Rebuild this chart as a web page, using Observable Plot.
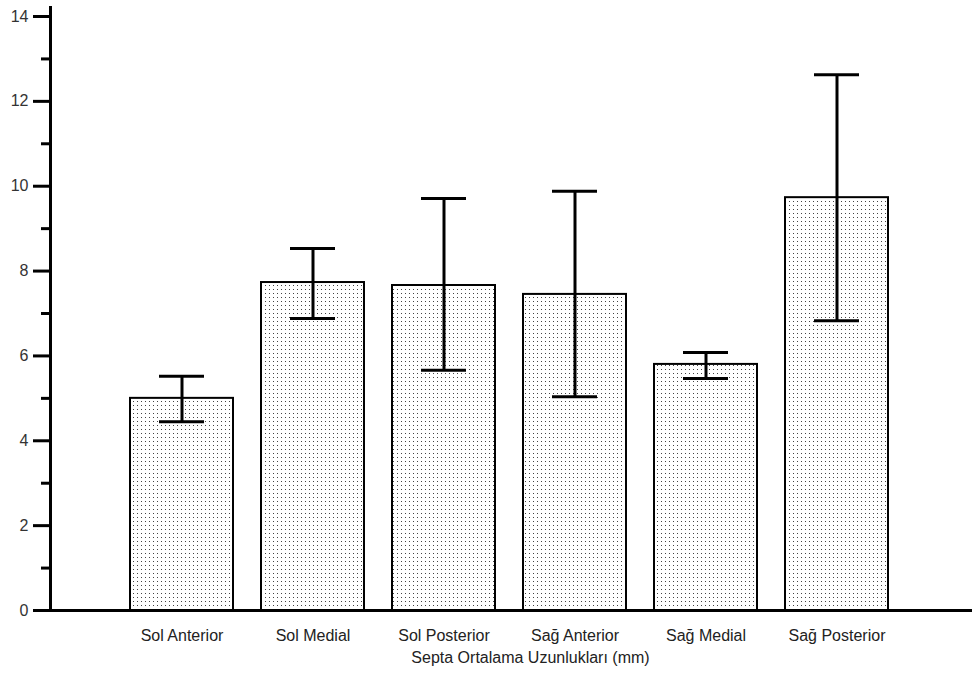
<!DOCTYPE html>
<html><head><meta charset="utf-8">
<script src="https://cdn.jsdelivr.net/npm/d3@7"></script>
<script src="https://cdn.jsdelivr.net/npm/@observablehq/plot@0.6"></script>
<style>
body{margin:0;background:#fff;}
svg{font-family:"Liberation Sans",Arial,sans-serif;}
</style>
</head><body><div id="chart"></div>
<script>
const categories = ["Sol Anterior","Sol Medial","Sol Posterior","Sağ Anterior","Sağ Medial","Sağ Posterior"];
const means = [5.0, 7.73, 7.66, 7.45, 5.80, 9.73];
const upper = [5.52, 8.53, 9.71, 9.88, 6.08, 12.63];
const lower = [4.45, 6.88, 5.66, 5.04, 5.47, 6.83];
const majorTicks = [0,2,4,6,8,10,12,14];
const minorTicks = [1,3,5,7,9,11,13];
const xTitle = "Septa Ortalama Uzunlukları (mm)";

const data = categories.map((c,i)=>({cat:c, mean:means[i], hi:upper[i], lo:lower[i]}));

const chart = Plot.plot({
  width: 972, height: 682,
  marginLeft: 50, marginRight: 0, marginTop: 16, marginBottom: 72,
  style: {fontFamily: '"Liberation Sans", Arial, sans-serif', background: "#fff"},
  x: {domain: categories, range: [128, 889], paddingInner: 0.217, paddingOuter: 0, label: null},
  y: {domain: [0, 14], label: null},
  marks: [
    Plot.barY(data, {x: "cat", y: "mean", fill: "url(#dots)", stroke: "#000", strokeWidth: 2}),
    Plot.ruleX(data, {x: "cat", y1: "lo", y2: "hi", stroke: "#000", strokeWidth: 3}),
    Plot.tickY(data, {x: "cat", y: "hi", stroke: "#000", strokeWidth: 3, insetLeft: 29, insetRight: 29}),
    Plot.tickY(data, {x: "cat", y: "lo", stroke: "#000", strokeWidth: 3, insetLeft: 29, insetRight: 29}),
    Plot.ruleY([0], {stroke: "#000", strokeWidth: 3}),
    Plot.frame({anchor: "left", stroke: "#000", strokeWidth: 3, insetTop: -9}),
    Plot.axisY({ticks: majorTicks, tickSize: 17, tickPadding: 5, strokeWidth: 3, stroke: "#000", fill: "#333", fontSize: 16, label: null}),
    Plot.axisY({ticks: minorTicks, tickSize: 9, strokeWidth: 3, stroke: "#000", tickFormat: () => "", label: null}),
    Plot.axisX({tickSize: 0, tickPadding: 19, fontSize: 16, fill: "#222", label: null}),
    Plot.text([xTitle], {frameAnchor: "bottom", dy: 52, dx: 19, fontSize: 16, fill: "#222"})
  ]
});

const svg = d3.select(chart);
const defs = svg.insert("defs", ":first-child");
const pat = defs.append("pattern").attr("id","dots").attr("patternUnits","userSpaceOnUse")
  .attr("width",4).attr("height",4);
pat.append("rect").attr("width",4).attr("height",4).attr("fill","#fff");
pat.append("rect").attr("x",1).attr("y",1).attr("width",1).attr("height",1).attr("fill","#444");
document.getElementById("chart").appendChild(chart);
</script>
</body></html>
